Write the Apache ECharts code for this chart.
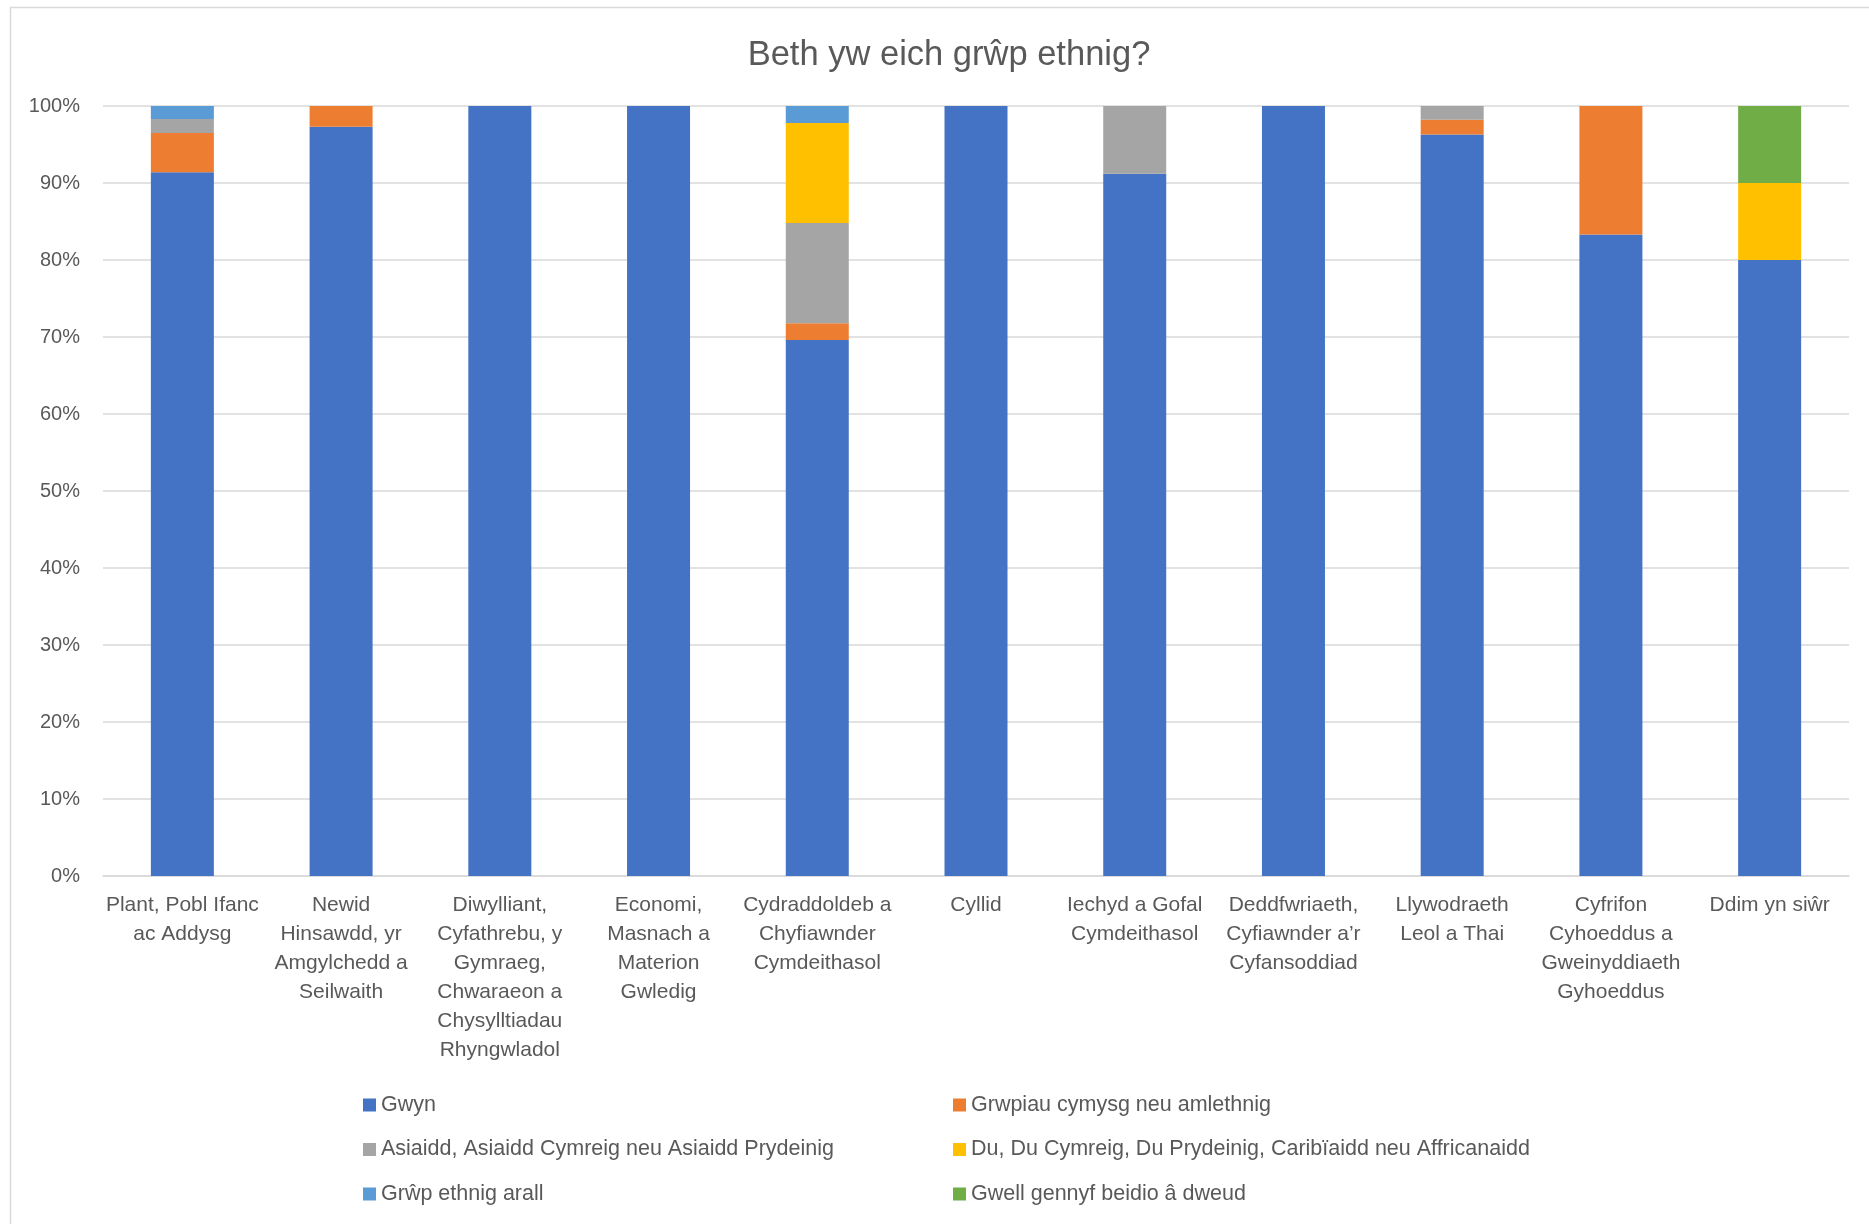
<!DOCTYPE html>
<html>
<head>
<meta charset="utf-8">
<script src="https://cdn.jsdelivr.net/npm/echarts@6/dist/echarts.min.js"></script>
<style>
html,body{margin:0;padding:0;background:#fff;}
#main{width:1869px;height:1224px;}
</style>
</head>
<body>
<div id="main"></div>
<script>
const title = 'Beth yw eich grŵp ethnig?';
const categories = [
  'Plant, Pobl Ifanc\nac Addysg',
  'Newid\nHinsawdd, yr\nAmgylchedd a\nSeilwaith',
  'Diwylliant,\nCyfathrebu, y\nGymraeg,\nChwaraeon a\nChysylltiadau\nRhyngwladol',
  'Economi,\nMasnach a\nMaterion\nGwledig',
  'Cydraddoldeb a\nChyfiawnder\nCymdeithasol',
  'Cyllid',
  'Iechyd a Gofal\nCymdeithasol',
  'Deddfwriaeth,\nCyfiawnder a’r\nCyfansoddiad',
  'Llywodraeth\nLeol a Thai',
  'Cyfrifon\nCyhoeddus a\nGweinyddiaeth\nGyhoeddus',
  'Ddim yn siŵr'
];
const seriesNames = [
  'Gwyn',
  'Grwpiau cymysg neu amlethnig',
  'Asiaidd, Asiaidd Cymreig neu Asiaidd Prydeinig',
  'Du, Du Cymreig, Du Prydeinig, Caribïaidd neu Affricanaidd',
  'Grŵp ethnig arall',
  'Gwell gennyf beidio â dweud'
];
const gwyn    = [91.4, 97.3, 100, 100, 69.6, 100, 91.2, 100, 96.3, 83.3, 80];
const cymysg  = [5.1, 2.7, 0, 0, 2.2, 0, 0, 0, 1.9, 16.7, 0];
const asiaidd = [1.8, 0, 0, 0, 13.0, 0, 8.8, 0, 1.8, 0, 0];
const du      = [0, 0, 0, 0, 13.0, 0, 0, 0, 0, 0, 10];
const arall   = [1.7, 0, 0, 0, 2.2, 0, 0, 0, 0, 0, 0];
const gwell   = [0, 0, 0, 0, 0, 0, 0, 0, 0, 0, 10];
const yTicks = [0, 10, 20, 30, 40, 50, 60, 70, 80, 90, 100];

const colors = ['#4472C4', '#ED7D31', '#A5A5A5', '#FFC000', '#5B9BD5', '#70AD47'];
const seriesData = [gwyn, cymysg, asiaidd, du, arall, gwell];
const textColor = '#595959';
const font = 'Liberation Sans';

const chart = echarts.init(document.getElementById('main'), null, {renderer: 'canvas'});
const legendCommon = {
  orient: 'vertical',
  top: 1094,
  padding: 0,
  itemWidth: 13,
  itemHeight: 13,
  itemGap: 22.5,
  icon: 'rect',
  selectedMode: false,
  textStyle: {color: textColor, fontSize: 21.5, fontFamily: font, lineHeight: 21.5}
};
chart.setOption({
  backgroundColor: '#fff',
  animation: false,
  title: {
    text: title,
    left: 944,
    textAlign: 'center',
    top: 33,
    textStyle: {color: textColor, fontSize: 34.5, fontWeight: 'normal', fontFamily: font}
  },
  legend: [
    Object.assign({}, legendCommon, {left: 363, data: [seriesNames[0], seriesNames[2], seriesNames[4]]}),
    Object.assign({}, legendCommon, {left: 953, data: [seriesNames[1], seriesNames[3], seriesNames[5]]})
  ],
  grid: {left: 103, right: 20, top: 106, bottom: 348, containLabel: false},
  xAxis: {
    type: 'category',
    data: categories,
    axisTick: {show: false},
    axisLine: {lineStyle: {color: '#d9d9d9', width: 1.5}},
    axisLabel: {
      interval: 0,
      margin: 15,
      color: textColor,
      fontSize: 21,
      fontFamily: font,
      lineHeight: 29,
      align: 'center'
    }
  },
  yAxis: {
    type: 'value',
    min: yTicks[0],
    max: yTicks[yTicks.length - 1],
    interval: 10,
    axisLine: {show: false},
    axisTick: {show: false},
    splitLine: {lineStyle: {color: '#d9d9d9', width: 1.5}},
    axisLabel: {
      formatter: '{value}%',
      margin: 23,
      color: textColor,
      fontSize: 20,
      fontFamily: font
    }
  },
  series: seriesNames.map((name, i) => ({
    name: name,
    type: 'bar',
    stack: 'total',
    barWidth: 63,
    data: seriesData[i],
    itemStyle: {color: colors[i]}
  })),
  graphic: [{
    type: 'rect',
    shape: {x: 10.5, y: 7.5, width: 1900, height: 1300},
    style: {fill: 'none', stroke: '#d9d9d9', lineWidth: 1.5},
    silent: true,
    z: -1
  }]
});
</script>
</body>
</html>
